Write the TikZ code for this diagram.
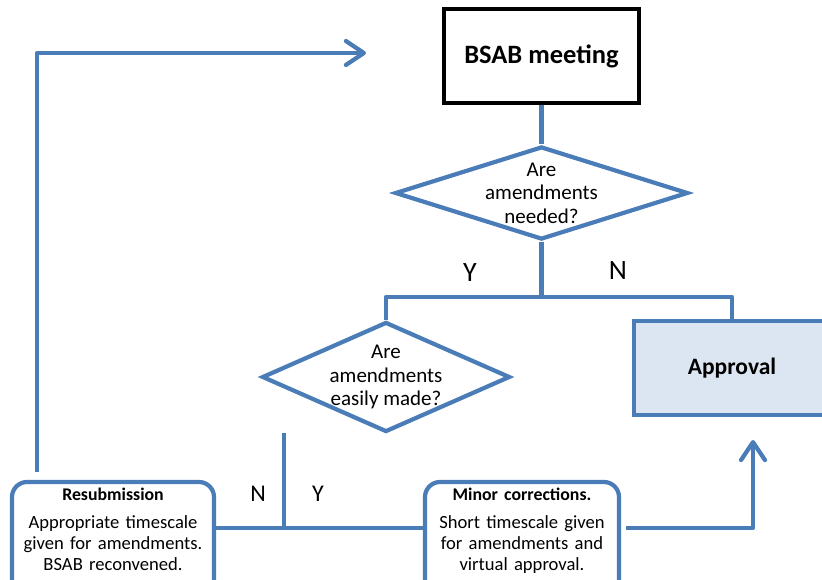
\documentclass[tikz,border=0pt]{standalone}
\usepackage{fontspec}
\setmainfont{Carlito}
\usetikzlibrary{shapes.geometric,arrows.meta,positioning}

\definecolor{flowblue}{RGB}{74,124,184}
\definecolor{paleblue}{RGB}{220,230,242}

\begin{document}
\begin{tikzpicture}[x=1pt, y=-1pt,
  flow/.style={draw=flowblue, line width=4.2pt},
  query/.style={diamond, flow, fill=white, inner sep=0pt},
  querytext/.style={align=center, font=\fontsize{21}{23.5}\selectfont},
  outcome/.style={rectangle, rounded corners=15pt, flow, fill=white, align=center,
    text width=182pt, inner xsep=6pt, font=\fontsize{18.6}{21.2}\selectfont},
  answer/.style={font=\fontsize{28}{30}\selectfont},
  link/.style={flow, line join=round},
  arrowin/.style={link, -{Straight Barb[length=18pt,width=24pt,round]}}]
\clip (0,0) rectangle (822,579);
\fill[white] (0,0) rectangle (822,579);

% BSAB meeting
\node[draw=black, line width=3.5pt, minimum width=195pt, minimum height=94pt,
  font=\bfseries\fontsize{26.5}{30}\selectfont] (meeting) at (541.5,56) {BSAB meeting};

% Fragen
\node[query, minimum width=293pt, minimum height=93pt,
  label={[querytext]center:Are\\amendments\\needed?}] (needed) at (541.5,193) {};
\node[query, minimum width=248pt, minimum height=110pt,
  label={[querytext]center:Are\\amendments\\easily made?}] (easy) at (386,377) {};

% Approval
\node[rectangle, flow, fill=paleblue, minimum width=196pt, minimum height=94pt,
  font=\bfseries\fontsize{23.5}{27}\selectfont] (approval) at (732,368) {Approval};

% Ergebnisse
\node[outcome, text width=190pt, minimum height=124pt] (resub) at (113,544) {
{\bfseries\fontsize{17.8}{21}\selectfont Resubmission}\\[6pt]
Appropriate timescale\\
given for amendments.\\
BSAB reconvened.\\[8pt]\mbox{}};
\node[outcome, minimum height=124pt] (minor) at (522,544) {
{\bfseries\fontsize{17.8}{21}\selectfont Minor corrections.}\\[6pt]
Short timescale given\\
for amendments and\\
virtual approval.\\[8pt]\mbox{}};

% Y/N
\node[answer] (yes1) at (470,273) {Y};
\node[answer] (no1) at (618,271) {N};
\node[answer, font=\fontsize{24}{26}\selectfont] (no2) at (258,494) {N};
\node[answer, font=\fontsize{24}{26}\selectfont] (yes2) at (318,494) {Y};

% Verbindungen
\coordinate (split) at (541.5,297);
\coordinate (gatetop) at (284,433);
\coordinate (gate) at (284,528);
\coordinate (approvalin) at (753,440);
\coordinate (backfoot) at (37,472);
\coordinate (meetingin) at (366,53);

\draw[link] (meeting) -- (needed);
\draw[link] (needed) -- (split);
\draw[link] (split) -| (easy);
\draw[link] (split) -| (approval);
\draw[link] (gatetop) -- (gate);
\draw[link] (resub.east |- gate) -- (minor.west |- gate);
\draw[arrowin] ([xshift=5pt]minor.east |- gate) -| (approvalin);
\draw[arrowin] (backfoot) |- (meetingin);
\end{tikzpicture}
\end{document}
